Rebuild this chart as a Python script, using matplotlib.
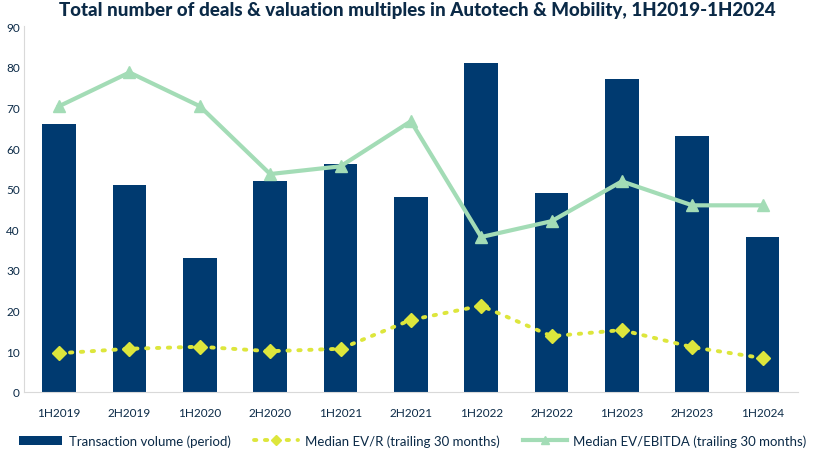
import numpy as np
import matplotlib.pyplot as plt

periods = ["1H2019", "2H2019", "1H2020", "2H2020", "1H2021", "2H2021",
           "1H2022", "2H2022", "1H2023", "2H2023", "1H2024"]
volume = [66, 51, 33, 52, 56, 48, 81, 49, 77, 63, 38]
ev_r = [9.5, 10.6, 11.1, 10.0, 10.6, 17.7, 21.2, 13.7, 15.2, 11.0, 8.3]
ev_ebitda = [70.3, 78.6, 70.3, 53.6, 55.5, 66.6, 38.1, 42.0, 51.8, 45.9, 45.9]

navy = "#003a70"
green = "#a3dcb6"
yellow = "#dde63c"
txt = "#0b2a47"

plt.rcParams['font.family'] = ['Lato', 'DejaVu Sans']

fig = plt.figure(figsize=(8.25, 4.6), dpi=100)
ax = fig.add_axes([0.029, 0.146, 0.938, 0.795])

x = np.arange(len(periods))
b = ax.bar(x, volume, width=0.48, color=navy, label="Transaction volume (period)", zorder=2)
l1, = ax.plot(x, ev_r, color=yellow, linestyle=(0, (0.6, 2.2)), linewidth=2.8,
              dash_capstyle='round', marker='D', markersize=7, zorder=3,
              label="Median EV/R (trailing 30 months)")
l2, = ax.plot(x, ev_ebitda, color=green, linewidth=3, marker='^', markersize=8,
              zorder=3, label="Median EV/EBITDA (trailing 30 months)")

ax.set_xlim(-0.5, len(periods) - 0.5)
ax.set_ylim(0, 90)
ax.set_yticks(range(0, 91, 10))
ax.set_xticks(x)
ax.set_xticklabels(periods)
ax.tick_params(length=0, labelsize=8.5, colors=txt)
ax.tick_params(axis='x', pad=11)
ax.tick_params(axis='y', pad=3)
for s in ["top", "right"]:
    ax.spines[s].set_visible(False)
ax.spines["left"].set_color("#d9d9d9")
ax.spines["bottom"].set_color("#d9d9d9")

fig.suptitle("Total number of deals & valuation multiples in Autotech & Mobility, 1H2019-1H2024",
             x=0.506, y=0.995, fontsize=13.5, fontweight='black', color=txt)

fig.legend([b, l1, l2], [b.get_label(), l1.get_label(), l2.get_label()],
           loc="center", bbox_to_anchor=(0.5, 0.04), ncol=3, frameon=False,
           fontsize=9.5, handlelength=3.3, columnspacing=1.8, handletextpad=0.5,
           markerscale=0.8, labelcolor=txt)

fig.savefig("out.png", dpi=100)
